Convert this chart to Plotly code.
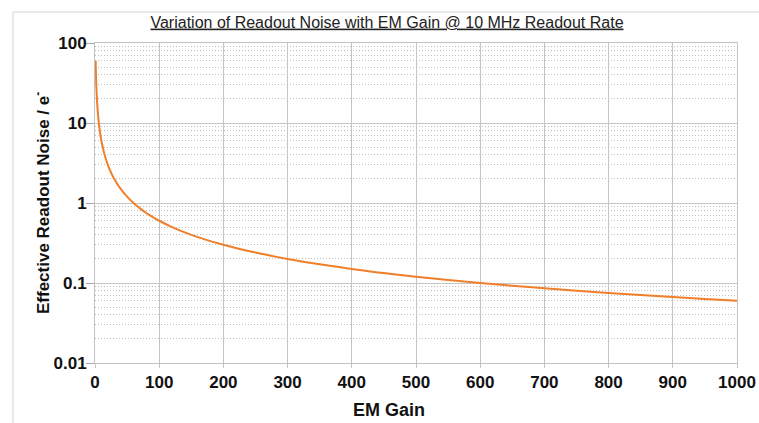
import plotly.graph_objects as go

# Values
em_gain = [1, 2, 3, 4, 5, 6, 8, 10, 12, 15, 20, 25, 30, 40, 50, 60, 70, 80, 90,
           100, 120, 150, 200, 250, 300, 350, 400, 450, 500, 550, 600, 650, 700,
           750, 800, 850, 900, 950, 1000]
readout_noise = [60, 30, 20, 15, 12, 10, 7.5, 6, 5, 4, 3, 2.4, 2, 1.5, 1.2, 1.0,
                 0.857, 0.75, 0.667, 0.6, 0.5, 0.4, 0.3, 0.24, 0.2, 0.171, 0.15,
                 0.133, 0.12, 0.109, 0.1, 0.0923, 0.0857, 0.08, 0.075, 0.0706,
                 0.0667, 0.0632, 0.06]

x_ticks = [0, 100, 200, 300, 400, 500, 600, 700, 800, 900, 1000]
y_ticks = [0.01, 0.1, 1, 10, 100]
y_tick_labels = ["0.01", "0.1", "1", "10", "100"]
y_minor_ticks = [m * d for d in [0.01, 0.1, 1, 10] for m in range(2, 10)]

title_text = "Variation of Readout Noise with EM Gain @ 10 MHz Readout Rate"
x_title = "EM Gain"
y_title = "Effective Readout Noise / e<sup>-</sup>"

FONT = "Liberation Sans, Arial, sans-serif"

# plot area lands at 95..737 x 43..363 (page body margin removed below)
W, H = 759, 423
L, R, T, B = 95, 22, 43, 60
PW, PH = W - L - R, H - T - B


def px_to_paper_x(px):
    return (px - L) / PW


def px_to_paper_y(py):
    return (H - B - py) / PH


fig = go.Figure()
fig.add_trace(go.Scatter(
    x=em_gain, y=readout_noise, mode="lines",
    line=dict(color="#f07f2a", width=2, shape="spline"),
    showlegend=False, hoverinfo="x+y",
))

fig.update_layout(
    width=W, height=H,
    margin=dict(l=L, r=R, t=T, b=B),
    paper_bgcolor="white", plot_bgcolor="white",
    title=dict(text="<u>" + title_text + "</u>", x=px_to_paper_x(387), xanchor="center",
               xref="paper", y=1 - 22 / H, yanchor="middle",
               font=dict(family=FONT, size=16, color="#222")),
    font=dict(family=FONT, color="#111"),
    xaxis=dict(
        range=[0, 1000], tickvals=x_ticks, ticktext=[str(v) for v in x_ticks],
        showgrid=True, gridcolor="#c4c4c4", gridwidth=1,
        ticks="outside", ticklen=4, tickcolor="#c4c4c4",
        showline=True, linecolor="#c4c4c4", mirror=True,
        zeroline=False, automargin=False,
        tickfont=dict(family=FONT, size=17, color="#111", weight="bold"),
    ),
    yaxis=dict(
        type="log", range=[-2, 2], tickvals=y_ticks, ticktext=y_tick_labels,
        showgrid=True, gridcolor="#c4c4c4", gridwidth=1,
        ticks="outside", ticklen=8, tickcolor="#a8a8a8",
        showline=True, linecolor="#c4c4c4", mirror=True,
        zeroline=False, automargin=False, ticklabelstandoff=-4,
        tickfont=dict(family=FONT, size=17, color="#111", weight="bold"),
        minor=dict(tickmode="array", tickvals=y_minor_ticks, showgrid=True,
                   gridcolor="#bdbdbd", griddash="1px,2px", gridwidth=1, ticks=""),
    ),
    annotations=[
        dict(text="<b>" + x_title + "</b>", xref="paper", yref="paper",
             x=px_to_paper_x(389), y=px_to_paper_y(410), xanchor="center",
             yanchor="middle", showarrow=False,
             font=dict(family=FONT, size=18, color="#111")),
        dict(text="<b>" + y_title + "</b>", xref="paper", yref="paper",
             x=px_to_paper_x(42), y=px_to_paper_y(203), xanchor="center",
             yanchor="middle", showarrow=False, textangle=-90,
             font=dict(family=FONT, size=17, color="#111")),
    ],
    shapes=[dict(type="rect", xref="paper", yref="paper",
                 x0=px_to_paper_x(13), x1=1.5, y0=-0.5, y1=px_to_paper_y(12),
                 line=dict(color="#d4d4d4", width=1), layer="below")],
)

fig.write_html(
    "out.html",
    config={"displayModeBar": False},
    post_script="document.body.style.margin='0';document.body.style.overflow='hidden';",
)
